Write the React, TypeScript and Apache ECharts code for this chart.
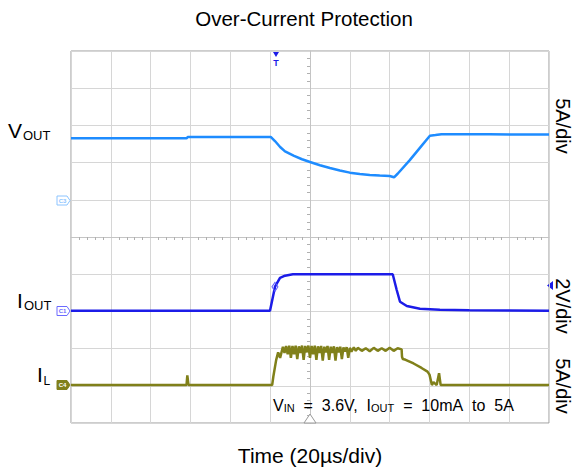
import React, { useEffect, useRef } from "react";
import * as echarts from "echarts";

const TITLE = "Over-Current Protection";
const X_LABEL = "Time (20µs/div)";
const SCALE_LABELS = ["5A/div", "2V/div", "5A/div"];

// time in divisions (-6..6), value in divisions (-5..5)
const VOUT_POINTS: [number, number][] = [
  [-6, 2.653], [-3.1, 2.653], [-3.07, 2.688], [-0.98, 2.688], [-0.88, 2.58],
  [-0.75, 2.42], [-0.627, 2.3], [-0.4, 2.18], [-0.2, 2.09], [0, 2.016],
  [0.25, 1.93], [0.5, 1.855], [0.75, 1.79], [1.0, 1.73], [1.25, 1.695],
  [1.5, 1.667], [1.75, 1.65], [2.0, 1.64], [2.11, 1.605], [2.2, 1.7],
  [2.5, 2.06], [2.8, 2.45], [3.01, 2.72], [3.15, 2.74], [3.3, 2.765],
  [4.5, 2.76], [6, 2.755],
];

const IOUT_POINTS: [number, number][] = [
  [-6, -1.98], [-1.004, -1.98], [-0.878, -1.336], [-0.753, -1.1], [-0.627, -1.04],
  [-0.43, -1.0], [2.077, -1.0], [2.177, -1.425], [2.26, -1.74], [2.43, -1.855],
  [2.76, -1.927], [3.26, -1.954], [4.0, -1.97], [6, -1.98],
];

const IL_POINTS: [number, number][] = [
  [-6, -3.98], [-3.1, -3.98], [-3.08, -3.72], [-3.05, -3.98], [-0.95, -3.98],
  [-0.92, -3.75], [-0.85, -3.31], [-0.8, -3.1], [-0.75, -3.25], [-0.68, -2.95],
  [-0.64, -3.12], [-0.6, -2.93], [-0.56, -3.15], [-0.52, -2.92], [-0.48, -3.25],
  [-0.44, -2.93], [-0.4, -3.15], [-0.36, -2.92], [-0.32, -3.28], [-0.28, -2.94],
  [-0.24, -3.12], [-0.2, -2.92], [-0.16, -3.3], [-0.12, -2.93], [-0.08, -3.1],
  [-0.04, -2.92], [0, -3.25], [0.04, -2.93], [0.08, -3.15], [0.12, -2.92],
  [0.16, -3.3], [0.2, -2.94], [0.24, -3.12], [0.28, -2.93], [0.32, -3.32],
  [0.36, -2.95], [0.4, -3.1], [0.44, -2.93], [0.48, -3.3], [0.52, -2.95],
  [0.56, -3.12], [0.6, -2.94], [0.64, -3.32], [0.68, -2.96], [0.72, -3.1],
  [0.76, -2.95], [0.8, -3.28], [0.84, -2.97], [0.88, -3.08], [0.92, -2.96],
  [0.96, -3.25], [1.0, -2.98], [1.04, -3.08], [1.1, -2.97], [1.15, -3.06],
  [1.2, -2.98], [1.3, -3.06], [1.4, -2.99], [1.5, -3.07], [1.6, -2.98],
  [1.7, -3.06], [1.8, -2.99], [1.9, -3.06], [2.0, -2.98], [2.1, -3.06],
  [2.2, -2.99], [2.3, -3.02], [2.31, -3.22], [2.33, -3.28], [2.4, -3.3],
  [2.6, -3.4], [2.8, -3.52], [2.95, -3.62], [3.0, -3.7], [3.06, -3.98],
  [3.1, -3.9], [3.18, -3.98], [3.24, -3.66], [3.28, -3.98], [6, -3.98],
];

const IOUT_TRIGGER_MARK: [number, number] = [-0.88, -1.34];

const FONT = '"Liberation Sans", Arial, sans-serif';
const C_VOUT = "#1e8cff";
const C_IOUT = "#1c1ce8";
const C_IL = "#80801a";

function txt(text: string, x: number, y: number, size: number, extra: any = {}) {
  return {
    type: "text",
    x,
    y,
    silent: true,
    ...extra,
    style: {
      text,
      fontSize: size,
      fontFamily: FONT,
      fill: "#000",
      align: "left",
      textAlign: "left",
      verticalAlign: "middle",
      textVerticalAlign: "middle",
      ...(extra.style || {}),
    },
  };
}

function chMarker(y: number, stroke: string, fill: string, label: string, labelColor: string) {
  return [
    {
      type: "polygon",
      silent: true,
      shape: { points: [[57, y - 4.5], [67, y - 4.5], [70, y], [67, y + 4.5], [57, y + 4.5]] },
      style: { fill, stroke, lineWidth: 1 },
    },
    txt(label, 62.5, y, 6, { style: { fill: labelColor, align: "center", textAlign: "center", fontWeight: "bold" } }),
  ];
}

export default function App() {
  const ref = useRef<HTMLDivElement>(null);
  useEffect(() => {
    if (!ref.current) return;
    const chart = echarts.init(ref.current, undefined, { renderer: "svg" });
    const axisCommon = {
      type: "value",
      interval: 1,
      axisLabel: { show: false },
      axisTick: { show: false },
      axisLine: { show: true, onZero: true, lineStyle: { color: "#c4c4c4", width: 1 } },
      minorTick: { show: true, splitNumber: 5, length: 3, lineStyle: { color: "#b0b0b0" } },
      splitLine: { show: true, lineStyle: { color: "#d6d6d6", width: 1 } },
    };
    const rich = {
      m: { fontSize: 16, fontFamily: FONT, lineHeight: 16, color: "#000" },
      s: { fontSize: 11, fontFamily: FONT, lineHeight: 11, verticalAlign: "bottom", color: "#000" },
    };
    const sp = "\u00a0\u00a0";
    chart.setOption({
      animation: false,
      backgroundColor: "#fff",
      grid: { left: 71, top: 51, width: 478, height: 372, show: true, borderColor: "#9a9a9a", borderWidth: 1, backgroundColor: "#fff" },
      xAxis: { ...axisCommon, min: -6, max: 6 },
      yAxis: { ...axisCommon, min: -5, max: 5 },
      series: [
        {
          type: "line",
          data: IL_POINTS,
          showSymbol: false,
          lineStyle: { color: C_IL, width: 2.5 },
          z: 3,
        },
        {
          type: "line",
          data: IOUT_POINTS,
          showSymbol: false,
          lineStyle: { color: C_IOUT, width: 2.5 },
          z: 4,
          markPoint: {
            silent: true,
            symbol: "diamond",
            symbolSize: [6, 9],
            label: { show: false },
            itemStyle: { color: "rgba(0,0,0,0)", borderColor: "#5a5aff", borderWidth: 1 },
            data: [{ coord: IOUT_TRIGGER_MARK }],
          },
        },
        {
          type: "line",
          data: VOUT_POINTS,
          showSymbol: false,
          lineStyle: { color: C_VOUT, width: 2.5 },
          z: 5,
        },
      ],
      graphic: [
        txt(TITLE, 304, 18, 20.5, { style: { align: "center", textAlign: "center" } }),
        txt(X_LABEL, 310, 455, 21, { style: { align: "center", textAlign: "center" } }),
        txt("V", 8, 130, 21),
        txt("OUT", 23, 135.5, 13),
        txt("I", 17, 300, 21),
        txt("OUT", 24, 305.5, 13),
        txt("I", 37, 374.5, 21),
        txt("L", 43.5, 380.5, 12),
        txt(SCALE_LABELS[0], 563, 126, 20, { rotation: -Math.PI / 2, style: { align: "center", textAlign: "center" } }),
        txt(SCALE_LABELS[1], 563, 306, 20, { rotation: -Math.PI / 2, style: { align: "center", textAlign: "center" } }),
        txt(SCALE_LABELS[2], 563, 386, 20, { rotation: -Math.PI / 2, style: { align: "center", textAlign: "center" } }),
        {
          type: "text",
          x: 273,
          y: 405,
          silent: true,
          z: 10,
          style: {
            text: `{m|V}{s|IN}{m|${sp}=${sp}3.6V,${sp}I}{s|OUT}{m|${sp}=${sp}10mA${sp}to${sp}5A}`,
            rich,
            fontFamily: FONT,
            fontSize: 16,
            fill: "#000",
            align: "left",
            textAlign: "left",
            verticalAlign: "middle",
            textVerticalAlign: "middle",
          },
        },
        // trigger marker at top
        { type: "polygon", silent: true, shape: { points: [[273, 52], [279, 52], [276, 57]] }, style: { fill: C_IOUT } },
        txt("T", 276, 63, 9, { style: { fill: C_IOUT, align: "center", textAlign: "center", fontWeight: "bold" } }),
        // trigger level marker at right
        { type: "polygon", silent: true, shape: { points: [[547, 285.5], [553, 281], [553, 290]] }, style: { fill: C_IOUT } },
        // trigger position marker at bottom
        { type: "polygon", silent: true, z: 10, shape: { points: [[304, 423], [316, 423], [310, 414]] }, style: { fill: "#fff", stroke: "#999", lineWidth: 1 } },
        ...chMarker(200.5, "#8cc4ff", "#fff", "C3", "#8cc4ff"),
        ...chMarker(311, "#6b6bff", "#fff", "C1", "#6b6bff"),
        ...chMarker(385, C_IL, C_IL, "C4", "#fff"),
      ],
    });
    return () => chart.dispose();
  }, []);
  return <div ref={ref} style={{ position: "absolute", left: 0, top: 0, width: 574, height: 471 }} />;
}
